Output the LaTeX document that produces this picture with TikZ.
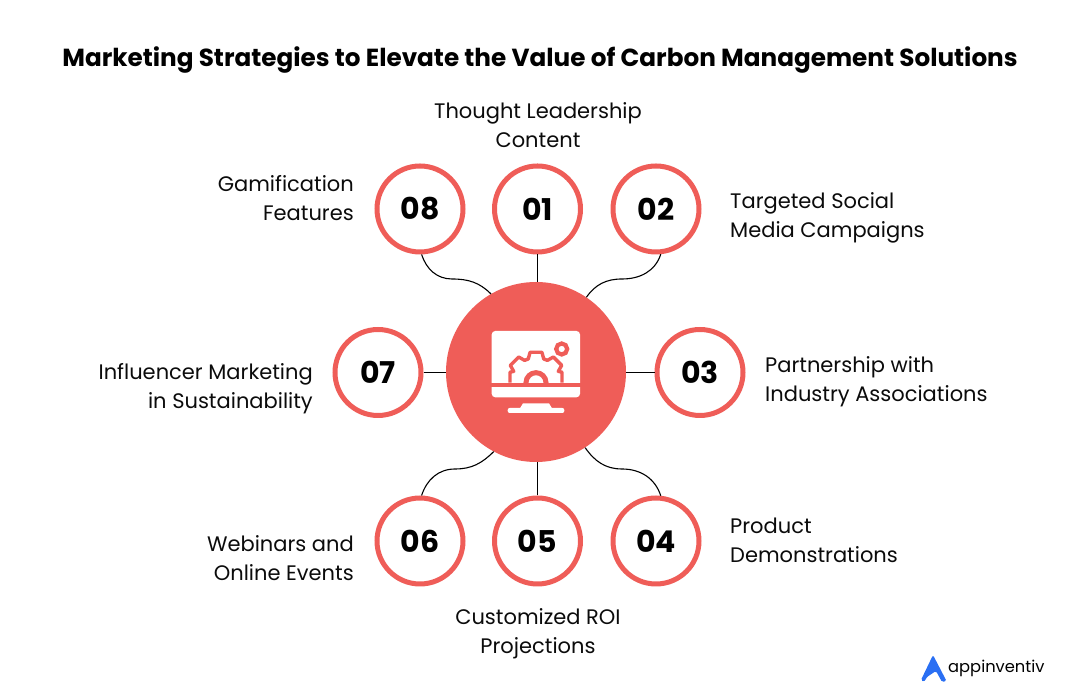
\documentclass[tikz,border=0pt]{standalone}
\usepackage{fontspec}
\setmainfont{Poppins}
\definecolor{coral}{HTML}{EF5D58}
\definecolor{logoblue}{HTML}{2A6FF3}
\definecolor{inkblack}{HTML}{0B0B0B}
\tikzset{
	numcirc/.style={circle,draw=coral,line width=5pt,fill=white,minimum size=86pt,inner sep=0pt,text=black,font=\fontsize{30}{30}\selectfont\bfseries},
	lbl/.style={text=inkblack,inner sep=0pt,font=\fontsize{21}{29}\selectfont},
	link/.style={draw=black,line width=1.1pt}
}
\begin{document}
\begin{tikzpicture}[x=1pt,y=1pt]
	\useasboundingbox (0,0) rectangle (1080,698);
	\node[text=black,inner sep=0pt,font=\fontsize{24.7}{30}\selectfont\bfseries] (title) at (540,638) {Marketing Strategies to Elevate the Value of Carbon Management Solutions};
	% hub and icon
	\node[circle,fill=coral,minimum size=180pt,inner sep=0pt] (hub) at (536,326) {};
	\node[numcirc] (c01) at (537.5,489) {01};
	\node[numcirc] (c02) at (656,489) {02};
	\node[numcirc] (c03) at (700,325.5) {03};
	\node[numcirc] (c04) at (656,157) {04};
	\node[numcirc] (c05) at (537.5,157) {05};
	\node[numcirc] (c06) at (420,157) {06};
	\node[numcirc] (c07) at (378,325.5) {07};
	\node[numcirc] (c08) at (420,489) {08};
	% bends of the curved links
	\coordinate (m02) at (622,419);
	\coordinate (m04) at (622,229);
	\coordinate (m06) at (455,229);
	\coordinate (m08) at (452,419);
	\draw[link] (c01.south) -- (c01.south |- hub.north);
	\draw[link] (c03.west) -- (c03.west -| hub.east);
	\draw[link] (c05.north) -- (c05.north |- hub.south);
	\draw[link] (c07.east) -- (c07.east -| hub.west);
	\draw[link] (c02.-84) to[out=-108,in=0] (m02) to[out=180,in=55] (hub.56);
	\draw[link] (c04.84) to[out=108,in=0] (m04) to[out=180,in=-55] (hub.-57);
	\draw[link] (c06.88) to[out=72,in=180] (m06) to[out=0,in=-135] (hub.-118);
	\draw[link] (c08.-88) to[out=-72,in=180] (m08) to[out=0,in=135] (hub.120);
	% labels
	\node[lbl,align=center] (t01) at (538,572.5) {Thought Leadership\\Content};
	\node[lbl,align=left,anchor=west] (t02) at (730,480) {Targeted Social\\Media Campaigns};
	\node[lbl,align=left,anchor=west] (t03) at (765,316) {Partnership with\\Industry Associations};
	\node[lbl,align=left,anchor=west] (t04) at (730,158) {Product\\Demonstrations};
	\node[lbl,align=center] (t05) at (538,64) {Customized ROI\\Projections};
	\node[lbl,align=right,anchor=east] (t06) at (354,140) {Webinars and\\Online Events};
	\node[lbl,align=right,anchor=east] (t07) at (313,309) {Influencer Marketing\\in Sustainability};
	\node[lbl,align=right,anchor=east] (t08) at (354,500) {Gamification\\Features};
	% monitor icon
	\coordinate (gc) at (536,315.3);
	\fill[white,rounded corners=3.5pt] (491.7,300.7) rectangle (580,367);
	\fill[coral] (491,310.7) rectangle (581,315.3);
	\fill[white] (523,294.7) -- (549,294.7) -- (552,289.7) -- (520,289.7) -- cycle;
	\fill[white,rounded corners=2pt] (507.7,285) rectangle (564.3,290);
	\begin{scope}
	\clip (491.7,315.3) rectangle (580,367);
	\draw[coral,line width=3.4pt,line join=round] ([shift={(26,0)}]gc) -- ([shift={(26,10.5)}]gc)
		\foreach \a in {45,90,135}{
			-- ([shift={(\a-18:25)}]gc) -- ([shift={(\a-11:31)}]gc)
			-- ([shift={(\a+11:31)}]gc) -- ([shift={(\a+18:25)}]gc)}
		-- ([shift={(-26,10.5)}]gc) -- ([shift={(-26,0)}]gc);
	\draw[coral,line width=5pt] (gc) circle (10pt);
	\end{scope}
	\draw[coral,line width=4.2pt] (561.7,349) circle (5.5pt);
	% logo
	\fill[logoblue,rounded corners=1.5pt] (933,43) -- (946.5,17) -- (942,16) -- (936,27) -- (927,21) -- (924,16) -- (921,18) -- cycle;
	\node[anchor=base west,inner sep=0pt,text=black,font=\fontsize{16.3}{20}\selectfont] (logo) at (948,25) {appinventiv};
\end{tikzpicture}
\end{document}
